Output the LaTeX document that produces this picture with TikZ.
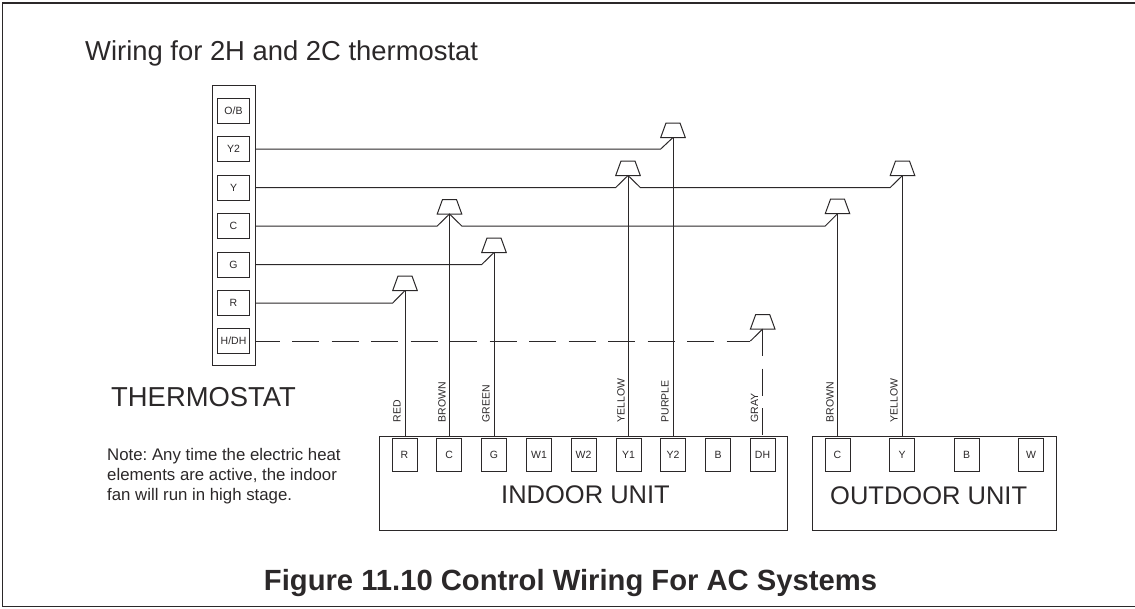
\documentclass[tikz,border=0pt]{standalone}
\usepackage{fontspec}
\setmainfont{Liberation Sans}
\usetikzlibrary{shapes.geometric}
\definecolor{ink}{HTML}{2B2829}
\frenchspacing
\tikzset{
    terminal/.style={draw=ink, line width=1pt, rectangle, minimum width=32.5pt, minimum height=25pt, inner sep=0pt, text=ink, font=\fontsize{10.5}{12}\selectfont},
    unitterminal/.style={terminal, minimum width=25pt, minimum height=32.5pt},
    housing/.style={draw=ink, line width=1pt, rectangle, inner sep=0pt},
    splice/.style={draw=ink, line width=1pt, trapezium, trapezium angle=70, text width=14pt, text height=14.5pt, text depth=0pt, inner sep=0pt, outer sep=0pt, anchor=south},
    wire/.style={draw=ink, line width=1pt},
    gapwire/.style={wire, dash pattern=on 27pt off 12.5pt},
    colorlabel/.style={rotate=90, anchor=base west, inner sep=0pt, text=ink, font=\fontsize{10.5}{12}\selectfont},
    bigtext/.style={anchor=base west, inner sep=0pt, text=ink, font=\fontsize{25.5}{30}\selectfont},
}
\begin{document}
\begin{tikzpicture}[x=1pt, y=-1pt]
    \useasboundingbox (0, 0) rectangle (1135, 608);
    \coordinate (frameTR) at (1135, 3);
    \coordinate (frameTL) at (2.5, 3);
    \coordinate (frameBL) at (2.5, 606.5);
    \coordinate (frameBR) at (1135, 606.5);
    \draw[draw=ink, line width=1.5pt] (frameTR) -- (frameTL) -- (frameBL) -- (frameBR);

    \node[bigtext, font=\fontsize{27.4}{30}\selectfont] at (85, 60) (heading) {Wiring for 2H and 2C thermostat};

    % thermostat
    \node[housing, minimum width=43pt, minimum height=280pt] at (233.5, 225.5) (stat) {};
    \node[terminal] at (233.5, 110.5) (sOB) {O/B};
    \node[terminal] at (233.5, 149) (sY2) {Y2};
    \node[terminal] at (233.5, 187.5) (sY) {Y};
    \node[terminal] at (233.5, 226) (sC) {C};
    \node[terminal] at (233.5, 264.5) (sG) {G};
    \node[terminal] at (233.5, 303) (sR) {R};
    \node[terminal] at (233.5, 341) (sDH) {H/DH};
    \node[bigtext, font=\fontsize{27.4}{30}\selectfont] at (111, 406) (statname) {THERMOSTAT};
    \node[anchor=north west, inner sep=0pt, align=left, text=ink, font=\fontsize{16.8}{20.3}\selectfont] at (107, 448) (note) {Note: Any time the electric heat\\elements are active, the indoor\\fan will run in high stage.};

    % indoor unit
    \node[housing, minimum width=408pt, minimum height=93.5pt] at (583.5, 483.25) (indoor) {};
    \node[unitterminal] at (404.5, 455) (iR) {R};
    \node[unitterminal] at (449.2, 455) (iC) {C};
    \node[unitterminal] at (494, 455) (iG) {G};
    \node[unitterminal] at (539, 455) (iW1) {W1};
    \node[unitterminal] at (583.5, 455) (iW2) {W2};
    \node[unitterminal] at (628.5, 455) (iY1) {Y1};
    \node[unitterminal] at (673, 455) (iY2) {Y2};
    \node[unitterminal] at (718, 455) (iB) {B};
    \node[unitterminal] at (762.5, 455) (iDH) {DH};
    \node[bigtext] at (501, 503) (indoorname) {INDOOR UNIT};

    % outdoor unit
    \node[housing, minimum width=243.5pt, minimum height=93.5pt] at (934.25, 483.25) (outdoor) {};
    \node[unitterminal] at (837.5, 455) (oC) {C};
    \node[unitterminal] at (902, 455) (oY) {Y};
    \node[unitterminal] at (966.5, 455) (oB) {B};
    \node[unitterminal] at (1031, 455) (oW) {W};
    \node[bigtext] at (830, 504) (outdoorname) {OUTDOOR UNIT};

    % wire connectors
    \node[splice] at (405, 290.5) (cR) {};
    \node[splice] at (449.5, 214) (cC) {};
    \node[splice] at (494, 252.5) (cG) {};
    \node[splice] at (628, 175.5) (cY) {};
    \node[splice] at (673, 137.5) (cY2) {};
    \node[splice] at (902.5, 175.5) (cYout) {};
    \node[splice] at (837.5, 213.7) (cCout) {};
    \node[splice] at (762.7, 329) (cDH) {};

    % wires from the thermostat
    \draw[wire] (sR.east -| stat.east) -- (cR.bottom left corner |- sR.east) -- (cR.south);
    \draw[wire] (sG.east -| stat.east) -- (cG.bottom left corner |- sG.east) -- (cG.south);
    \draw[wire] (sC.east -| stat.east) -- (cC.bottom left corner |- sC.east) -- (cC.south) -- (cC.bottom right corner |- sC.east) -- (cCout.bottom left corner |- sC.east) -- (cCout.south);
    \draw[wire] (sY.east -| stat.east) -- (cY.bottom left corner |- sY.east) -- (cY.south) -- (cY.bottom right corner |- sY.east) -- (cYout.bottom left corner |- sY.east) -- (cYout.south);
    \draw[wire] (sY2.east -| stat.east) -- (cY2.bottom left corner |- sY2.east) -- (cY2.south);
    \draw[gapwire, dash phase=3pt] (sDH.east -| stat.east) -- (cDH.bottom left corner |- sDH.east);
    \draw[wire] (cDH.bottom left corner |- sDH.east) -- (cDH.south);

    % wires down to the units
    \draw[wire] (cR.south) -- (cR.south |- indoor.north);
    \draw[wire] (cC.south) -- (cC.south |- indoor.north);
    \draw[wire] (cG.south) -- (cG.south |- indoor.north);
    \draw[wire] (cY.south) -- (cY.south |- indoor.north);
    \draw[wire] (cY2.south) -- (cY2.south |- indoor.north);
    \draw[gapwire] (cDH.south) -- (cDH.south |- indoor.north);
    \draw[wire] (cCout.south) -- (cCout.south |- outdoor.north);
    \draw[wire] (cYout.south) -- (cYout.south |- outdoor.north);

    \node[colorlabel] at (400.7, 422.5) (lRed) {RED};
    \node[colorlabel] at (445.7, 422.5) (lBrown) {BROWN};
    \node[colorlabel] at (489.7, 422.5) (lGreen) {GREEN};
    \node[colorlabel] at (624.7, 422.5) (lYellow) {YELLOW};
    \node[colorlabel] at (668.7, 422.5) (lPurple) {PURPLE};
    \node[colorlabel] at (758, 422.5) (lGray) {GRAY};
    \node[colorlabel] at (833.7, 422.5) (lBrownOut) {BROWN};
    \node[colorlabel] at (897.7, 422.5) (lYellowOut) {YELLOW};

    \node[anchor=base, inner sep=0pt, text=ink, font=\bfseries\fontsize{29.2}{32}\selectfont] at (570.5, 590) (caption) {Figure 11.10 Control Wiring For AC Systems};
\end{tikzpicture}
\end{document}
